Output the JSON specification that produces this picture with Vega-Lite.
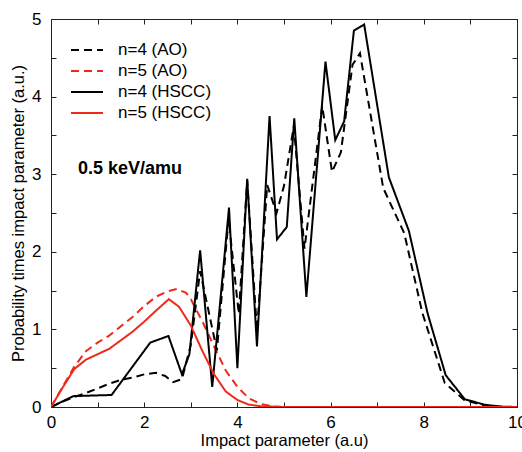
{
  "$schema": "https://vega.github.io/schema/vega-lite/v6.json",
  "autosize": "none",
  "padding": {"left": 51, "top": 19, "right": 5, "bottom": 45},
  "width": 466,
  "height": 388,
  "background": "white",
  "config": {
    "view": {"stroke": "#222", "strokeWidth": 1},
    "font": "Liberation Sans",
    "axis": {"labelFont": "Liberation Sans", "titleFont": "Liberation Sans", "labelColor": "#000", "titleColor": "#000", "titleFontWeight": "normal", "domainColor": "#222", "tickColor": "#222", "grid": false}
  },
  "datasets": {
    "curves": [
      {"series": "n=4 (AO)", "b": 0, "p": 0},
      {"series": "n=4 (AO)", "b": 0.25, "p": 0.07},
      {"series": "n=4 (AO)", "b": 0.5, "p": 0.13},
      {"series": "n=4 (AO)", "b": 0.75, "p": 0.18},
      {"series": "n=4 (AO)", "b": 1.0, "p": 0.24},
      {"series": "n=4 (AO)", "b": 1.25, "p": 0.3},
      {"series": "n=4 (AO)", "b": 1.5, "p": 0.35},
      {"series": "n=4 (AO)", "b": 1.75, "p": 0.38},
      {"series": "n=4 (AO)", "b": 2.0, "p": 0.42},
      {"series": "n=4 (AO)", "b": 2.25, "p": 0.44},
      {"series": "n=4 (AO)", "b": 2.45, "p": 0.4},
      {"series": "n=4 (AO)", "b": 2.62, "p": 0.32},
      {"series": "n=4 (AO)", "b": 2.81, "p": 0.36},
      {"series": "n=4 (AO)", "b": 3.0, "p": 0.8},
      {"series": "n=4 (AO)", "b": 3.2, "p": 1.75},
      {"series": "n=4 (AO)", "b": 3.56, "p": 0.73},
      {"series": "n=4 (AO)", "b": 3.81, "p": 2.42},
      {"series": "n=4 (AO)", "b": 4.03, "p": 1.2},
      {"series": "n=4 (AO)", "b": 4.21, "p": 2.92},
      {"series": "n=4 (AO)", "b": 4.42, "p": 0.98},
      {"series": "n=4 (AO)", "b": 4.64, "p": 2.86},
      {"series": "n=4 (AO)", "b": 4.84, "p": 2.5},
      {"series": "n=4 (AO)", "b": 5.0, "p": 2.85},
      {"series": "n=4 (AO)", "b": 5.21, "p": 3.62},
      {"series": "n=4 (AO)", "b": 5.44, "p": 2.04},
      {"series": "n=4 (AO)", "b": 5.82, "p": 3.88},
      {"series": "n=4 (AO)", "b": 6.03, "p": 3.03},
      {"series": "n=4 (AO)", "b": 6.22, "p": 3.28},
      {"series": "n=4 (AO)", "b": 6.47, "p": 4.41},
      {"series": "n=4 (AO)", "b": 6.63, "p": 4.56},
      {"series": "n=4 (AO)", "b": 7.13, "p": 2.82},
      {"series": "n=4 (AO)", "b": 7.58, "p": 2.24},
      {"series": "n=4 (AO)", "b": 7.97, "p": 1.21},
      {"series": "n=4 (AO)", "b": 8.45, "p": 0.31},
      {"series": "n=4 (AO)", "b": 8.87, "p": 0.09},
      {"series": "n=4 (AO)", "b": 9.3, "p": 0.02},
      {"series": "n=4 (AO)", "b": 9.7, "p": 0},
      {"series": "n=4 (AO)", "b": 10, "p": 0},

      {"series": "n=5 (AO)", "b": 0, "p": 0},
      {"series": "n=5 (AO)", "b": 0.25, "p": 0.26},
      {"series": "n=5 (AO)", "b": 0.5, "p": 0.52},
      {"series": "n=5 (AO)", "b": 0.75, "p": 0.72},
      {"series": "n=5 (AO)", "b": 1.0, "p": 0.83},
      {"series": "n=5 (AO)", "b": 1.25, "p": 0.92},
      {"series": "n=5 (AO)", "b": 1.5, "p": 1.04},
      {"series": "n=5 (AO)", "b": 1.75, "p": 1.16},
      {"series": "n=5 (AO)", "b": 2.0, "p": 1.3},
      {"series": "n=5 (AO)", "b": 2.25, "p": 1.42},
      {"series": "n=5 (AO)", "b": 2.5, "p": 1.49},
      {"series": "n=5 (AO)", "b": 2.7, "p": 1.52},
      {"series": "n=5 (AO)", "b": 2.9, "p": 1.47},
      {"series": "n=5 (AO)", "b": 3.0, "p": 1.39},
      {"series": "n=5 (AO)", "b": 3.25, "p": 1.1},
      {"series": "n=5 (AO)", "b": 3.5, "p": 0.78},
      {"series": "n=5 (AO)", "b": 3.75, "p": 0.47},
      {"series": "n=5 (AO)", "b": 4.0, "p": 0.26},
      {"series": "n=5 (AO)", "b": 4.25, "p": 0.11},
      {"series": "n=5 (AO)", "b": 4.5, "p": 0.04},
      {"series": "n=5 (AO)", "b": 4.75, "p": 0.01},
      {"series": "n=5 (AO)", "b": 5.0, "p": 0},
      {"series": "n=5 (AO)", "b": 10, "p": 0},

      {"series": "n=4 (HSCC)", "b": 0, "p": 0},
      {"series": "n=4 (HSCC)", "b": 0.48, "p": 0.14},
      {"series": "n=4 (HSCC)", "b": 1.3, "p": 0.155},
      {"series": "n=4 (HSCC)", "b": 2.13, "p": 0.83},
      {"series": "n=4 (HSCC)", "b": 2.52, "p": 0.915},
      {"series": "n=4 (HSCC)", "b": 2.81, "p": 0.42},
      {"series": "n=4 (HSCC)", "b": 2.97, "p": 0.68},
      {"series": "n=4 (HSCC)", "b": 3.2, "p": 2.02},
      {"series": "n=4 (HSCC)", "b": 3.46, "p": 0.26},
      {"series": "n=4 (HSCC)", "b": 3.82, "p": 2.57},
      {"series": "n=4 (HSCC)", "b": 4.0, "p": 0.5},
      {"series": "n=4 (HSCC)", "b": 4.21, "p": 2.94},
      {"series": "n=4 (HSCC)", "b": 4.42, "p": 0.78},
      {"series": "n=4 (HSCC)", "b": 4.69, "p": 3.75},
      {"series": "n=4 (HSCC)", "b": 4.85, "p": 2.16},
      {"series": "n=4 (HSCC)", "b": 5.06, "p": 2.32},
      {"series": "n=4 (HSCC)", "b": 5.22, "p": 3.72},
      {"series": "n=4 (HSCC)", "b": 5.48, "p": 1.42},
      {"series": "n=4 (HSCC)", "b": 5.89, "p": 4.45},
      {"series": "n=4 (HSCC)", "b": 6.1, "p": 3.44},
      {"series": "n=4 (HSCC)", "b": 6.29, "p": 3.68},
      {"series": "n=4 (HSCC)", "b": 6.5, "p": 4.85},
      {"series": "n=4 (HSCC)", "b": 6.72, "p": 4.93},
      {"series": "n=4 (HSCC)", "b": 7.25, "p": 2.96},
      {"series": "n=4 (HSCC)", "b": 7.68, "p": 2.27},
      {"series": "n=4 (HSCC)", "b": 8.08, "p": 1.21},
      {"series": "n=4 (HSCC)", "b": 8.47, "p": 0.41},
      {"series": "n=4 (HSCC)", "b": 8.88, "p": 0.1},
      {"series": "n=4 (HSCC)", "b": 9.3, "p": 0.03},
      {"series": "n=4 (HSCC)", "b": 9.66, "p": 0.005},
      {"series": "n=4 (HSCC)", "b": 10, "p": 0},

      {"series": "n=5 (HSCC)", "b": 0, "p": 0},
      {"series": "n=5 (HSCC)", "b": 0.25, "p": 0.25},
      {"series": "n=5 (HSCC)", "b": 0.5, "p": 0.49},
      {"series": "n=5 (HSCC)", "b": 0.75, "p": 0.61},
      {"series": "n=5 (HSCC)", "b": 1.0, "p": 0.68},
      {"series": "n=5 (HSCC)", "b": 1.25, "p": 0.75},
      {"series": "n=5 (HSCC)", "b": 1.5, "p": 0.86},
      {"series": "n=5 (HSCC)", "b": 1.75, "p": 0.97},
      {"series": "n=5 (HSCC)", "b": 2.0, "p": 1.1},
      {"series": "n=5 (HSCC)", "b": 2.25, "p": 1.24},
      {"series": "n=5 (HSCC)", "b": 2.53, "p": 1.39},
      {"series": "n=5 (HSCC)", "b": 2.75, "p": 1.29},
      {"series": "n=5 (HSCC)", "b": 3.0, "p": 1.05},
      {"series": "n=5 (HSCC)", "b": 3.25, "p": 0.72},
      {"series": "n=5 (HSCC)", "b": 3.5, "p": 0.42},
      {"series": "n=5 (HSCC)", "b": 3.75, "p": 0.2},
      {"series": "n=5 (HSCC)", "b": 4.0, "p": 0.09},
      {"series": "n=5 (HSCC)", "b": 4.25, "p": 0.03},
      {"series": "n=5 (HSCC)", "b": 4.5, "p": 0.01},
      {"series": "n=5 (HSCC)", "b": 5.0, "p": 0},
      {"series": "n=5 (HSCC)", "b": 10, "p": 0}
    ],
    "notes": [{"label": "0.5 keV/amu", "b": 0.58, "p": 3.0}]
  },
  "layer": [
    {
      "data": {"name": "curves"},
      "mark": {"type": "line", "strokeWidth": 2, "clip": true},
      "encoding": {
        "x": {
          "field": "b", "type": "quantitative",
          "scale": {"domain": [0, 10], "nice": false, "zero": false},
          "axis": {
            "orient": "bottom", "title": "Impact parameter (a.u)",
            "values": [0, 1, 2, 3, 4, 5, 6, 7, 8, 9, 10],
            "labelExpr": "datum.value % 2 == 0 ? format(datum.value, 'd') : ''",
            "tickSize": -5, "labelPadding": 12, "labelFontSize": 17,
            "titleFontSize": 16.5, "titlePadding": 2, "labelFlush": false, "labelOverlap": false
          }
        },
        "y": {
          "field": "p", "type": "quantitative",
          "scale": {"domain": [0, 5], "nice": false, "zero": false},
          "axis": {
            "orient": "left", "title": "Probability times impact parameter (a.u.)",
            "values": [0, 0.5, 1, 1.5, 2, 2.5, 3, 3.5, 4, 4.5, 5],
            "labelExpr": "datum.value % 1 == 0 ? format(datum.value, 'd') : ''",
            "tickSize": -5, "labelPadding": 15, "labelFontSize": 17,
            "titleFontSize": 16.5, "titlePadding": 5, "labelFlush": false, "labelOverlap": false
          }
        },
        "color": {
          "field": "series", "type": "nominal",
          "scale": {"domain": ["n=4 (AO)", "n=5 (AO)", "n=4 (HSCC)", "n=5 (HSCC)"], "range": ["#000000", "#ee2a1c", "#000000", "#ee2a1c"]},
          "legend": {
            "title": null, "orient": "none", "legendX": 27, "legendY": 22,
            "symbolType": "M-2,0H2", "symbolSize": 256, "symbolStrokeWidth": 2,
            "labelFontSize": 17, "labelFont": "Liberation Sans", "labelColor": "#000",
            "rowPadding": 4, "labelOffset": 22, "padding": 0
          }
        },
        "strokeDash": {
          "field": "series", "type": "nominal",
          "scale": {"domain": ["n=4 (AO)", "n=5 (AO)", "n=4 (HSCC)", "n=5 (HSCC)"], "range": [[8, 5], [8, 5], [1, 0], [1, 0]]},
          "legend": {
            "title": null, "orient": "none", "legendX": 27, "legendY": 22,
            "symbolType": "M-2,0H2", "symbolSize": 256, "symbolStrokeWidth": 2,
            "labelFontSize": 17, "labelFont": "Liberation Sans", "labelColor": "#000",
            "rowPadding": 4, "labelOffset": 22, "padding": 0
          }
        },
        "order": {"field": "b", "type": "quantitative"}
      }
    },
    {
      "data": {"name": "notes"},
      "mark": {"type": "text", "align": "left", "baseline": "alphabetic", "fontSize": 18, "fontWeight": "bold", "font": "Liberation Sans", "color": "#000"},
      "encoding": {
        "x": {"field": "b", "type": "quantitative", "axis": {"orient": "top", "title": null, "labels": false, "values": [0, 1, 2, 3, 4, 5, 6, 7, 8, 9, 10], "tickSize": -5}},
        "y": {"field": "p", "type": "quantitative", "axis": {"orient": "right", "title": null, "labels": false, "values": [0, 0.5, 1, 1.5, 2, 2.5, 3, 3.5, 4, 4.5, 5], "tickSize": -5}},
        "text": {"field": "label"}
      }
    }
  ],
  "resolve": {"axis": {"x": "independent", "y": "independent"}}
}
